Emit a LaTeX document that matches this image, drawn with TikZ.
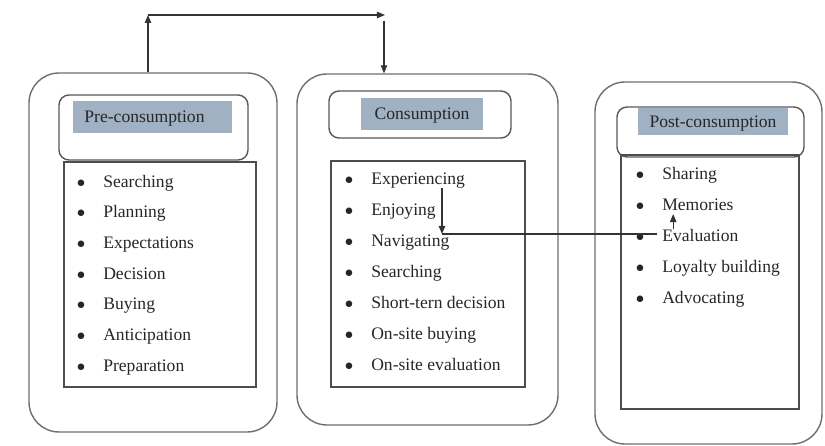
\documentclass[tikz,border=0pt]{standalone}
\usepackage{fontspec}
\setmainfont{Liberation Serif}
\usetikzlibrary{positioning,fit,arrows.meta}
\definecolor{headblue}{RGB}{160,177,196}
\definecolor{boxgray}{RGB}{110,110,110}
\newcommand{\itembul}{\llap{$\bullet$\hspace{0.45cm}}}
\tikzset{
  stage/.style={draw=boxgray, line width=1pt, rounded corners=0.75cm, inner sep=0pt},
  headbox/.style={draw=boxgray!80!black, line width=1pt, rounded corners=0.25cm, inner sep=0pt},
  listbox/.style={draw=boxgray!70!black, line width=1pt, inner sep=0pt},
  headfill/.style={fill=headblue, inner sep=0pt},
  headtext/.style={font=\fontsize{12.5}{15}\selectfont, text=black!85, inner sep=0pt,
    yshift=-0.05cm},
  item/.style={anchor=west, inner sep=0pt, text height=8.5pt, text depth=2.5pt,
    font=\fontsize{12.5}{15}\selectfont, text=black!85},
  link/.style={draw=black!80, line width=0.8pt},
  arr/.style={link, -{Triangle[length=2mm,width=1.6mm]}}
}

\begin{document}
\begin{tikzpicture}[x=0.025cm, y=-0.025cm]
  \useasboundingbox (0,0) rectangle (825,446);

  % title fills
  \node[headfill, fit={(73,101)(232,133)}] (prefill) {};
  \node[headfill, fit={(361,98)(483,130)}] (confill) {};
  \node[headfill, fit={(638,108)(788,135)}] (postfill) {};

  % the three stages
  \node[stage, fit={(29,73)(277,432)}] (pre) {};
  \node[headbox, fit={(59,95)(248,160)}] (prehead) {};
  \node[listbox, fit={(64,162)(256,387)}] (prelist) {};

  \node[stage, fit={(297,74)(558,425)}] (con) {};
  \node[headbox, fit={(329,91)(511,138)}] (conhead) {};
  \node[listbox, fit={(331,161)(525,387)}] (conlist) {};

  \node[stage, fit={(595,82)(822,444)}] (post) {};
  \node[headbox, fit={(617,107)(804,157)}] (posthead) {};
  \node[listbox, fit={(621,155)(799,409)}] (postlist) {};

  \node[headtext, xshift=-0.2cm] (pretitle) at (prefill) {Pre-consumption};
  \node[headtext] (contitle) at (confill) {Consumption};
  \node[headtext] (posttitle) at (postfill) {Post-consumption};

  % item lists
  \foreach \t [count=\i] in {Searching, Planning, Expectations, Decision,
      Buying, Anticipation, Preparation}
    \node[item] (pre\i) at (103, {183+30.67*(\i-1)}) {\itembul\t};
  \foreach \t [count=\i] in {Experiencing, Enjoying, Navigating, Searching,
      Short-tern decision, On-site buying, On-site evaluation}
    \node[item] (con\i) at (371, {180+31*(\i-1)}) {\itembul\t};
  \foreach \t [count=\i] in {Sharing, Memories, Evaluation, Loyalty building,
      Advocating}
    \node[item] (post\i) at (662, {175+31*(\i-1)}) {\itembul\t};

  % arrows
  \coordinate (upl) at (148,15);
  \coordinate (upr) at (385,15);
  \coordinate (dnt) at (384,21);
  \draw[arr] (pre.north -| upl) -- (upl);
  \draw[arr] (upl) -- (upr);
  \draw[arr] (dnt) -- (con.north -| dnt);

  \coordinate (navpt) at (442,234);
  \draw[arr] (con1.south -| navpt) -- (navpt);
  \draw[link] (navpt) -- ([xshift=-0.12cm]navpt -| post3.west);
  \draw[arr] ([xshift=0.28cm]post3.north west) -- ([xshift=0.28cm]post2.south west);
\end{tikzpicture}
\end{document}
